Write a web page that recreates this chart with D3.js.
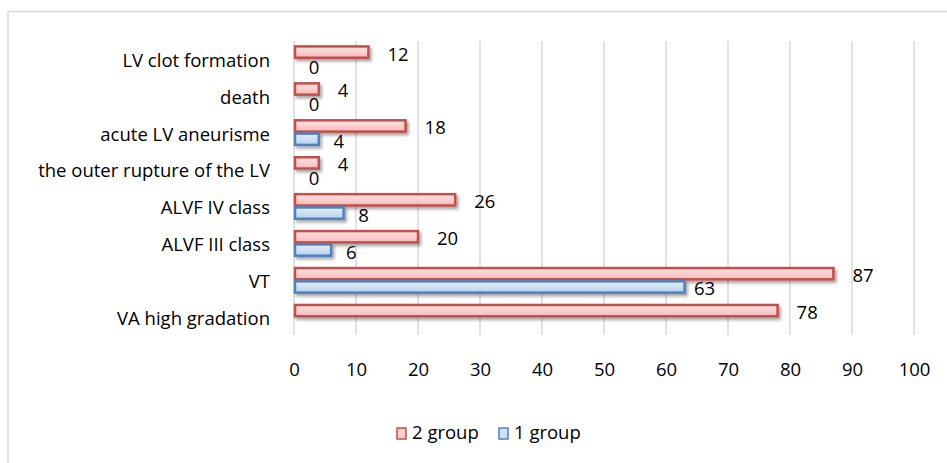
<!DOCTYPE html>
<html><head><meta charset="utf-8">
<script src="https://cdn.jsdelivr.net/npm/d3@7"></script>
<style>body{margin:0;background:#fff}svg{display:block}text{font-family:"Open Sans","Noto Sans",sans-serif;fill:#000}</style>
</head><body><svg id="c" width="947" height="463"></svg>
<script>
const categories = ["LV clot formation","death","acute LV aneurisme","the outer rupture of the LV","ALVF IV class","ALVF III class","VT","VA high gradation"];
const group2 = [12,4,18,4,26,20,87,78];
const group1 = [0,0,4,0,8,6,63,null];
const seriesNames = ["2 group","1 group"];
const xTicks = [0,10,20,30,40,50,60,70,80,90,100];

const FONT = "'Open Sans','Noto Sans',sans-serif";
const FS = 18.5;
const svg = d3.select("#c");
const defs = svg.append("defs");
const f = defs.append("filter").attr("id","sh").attr("x","-10%").attr("y","-50%").attr("width","130%").attr("height","220%");
f.append("feDropShadow").attr("dx",2).attr("dy",2.5).attr("stdDeviation",1.6).attr("flood-color","#000").attr("flood-opacity",0.35);
function grad(id,c1,c2){const g=defs.append("linearGradient").attr("id",id).attr("x1",0).attr("y1",0).attr("x2",0).attr("y2",1);
 g.append("stop").attr("offset","0%").attr("stop-color",c1);g.append("stop").attr("offset","100%").attr("stop-color",c2);}
grad("gr","#fde3e3","#f7b9b9");
grad("gb","#e5eefb","#b9d0f0");

svg.append("rect").attr("x",8).attr("y",11.5).attr("width",1000).attr("height",500).attr("fill","none").attr("stroke","#d9d9d9").attr("stroke-width",1.5);

const x = d3.scaleLinear().domain([0,100]).range([294,914]);
const y = d3.scaleBand().domain(categories).range([41,335]).paddingInner(0.28).paddingOuter(0.12);
const sub = d3.scaleBand().domain(seriesNames).range([0,y.bandwidth()]);

// gridlines
svg.append("g").selectAll("line").data(xTicks).join("line")
 .attr("x1",d=>x(d)).attr("x2",d=>x(d)).attr("y1",41).attr("y2",335)
 .attr("stroke","#d9d9d9").attr("stroke-width",1.5);

// x axis labels
const xa = svg.append("g").attr("transform","translate(0,370)").call(d3.axisBottom(x).tickValues(xTicks).tickSize(0).tickPadding(0));
xa.select(".domain").remove();
xa.selectAll("text").attr("font-size",FS).attr("font-family",FONT).attr("dy","0.35em").attr("fill","#000");

// y axis labels
const ya = svg.append("g").attr("transform","translate(270,2)").call(d3.axisLeft(y).tickSize(0).tickPadding(0));
ya.select(".domain").remove();
ya.selectAll("text").attr("font-size",FS).attr("font-family",FONT).attr("fill","#000");

const series = [
 {name:"2 group", vals:group2, fill:"url(#gr)", stroke:"#c0504d", swatch:"#f9cccc"},
 {name:"1 group", vals:group1, fill:"url(#gb)", stroke:"#4f81bd", swatch:"#d3e1f5"}
];

series.forEach(s=>{
 const data = categories.map((c,i)=>({c,v:s.vals[i]})).filter(d=>d.v!==null);
 const g = svg.append("g");
 g.selectAll("rect").data(data).join("rect")
  .attr("x",x(0)+1).attr("y",d=>y(d.c)+sub(s.name)+1)
  .attr("width",d=>Math.max(0,x(d.v)-x(0)-1)).attr("height",sub.bandwidth()-2)
  .attr("fill",s.fill).attr("stroke",d=>d.v>0?s.stroke:"none").attr("stroke-width",2.5)
  .attr("filter","url(#sh)");
 g.selectAll("text").data(data).join("text")
  .attr("x",d=>x(d.v)+(s.name==="2 group"?19:20))
  .attr("y",d=>y(d.c)+sub(s.name)+sub.bandwidth()/2+3.5)
  .attr("text-anchor",s.name==="2 group"?"start":"middle")
  .attr("dominant-baseline","middle").attr("font-size",FS).text(d=>d.v);
});

// legend
const lg = svg.append("g").attr("transform","translate(396,434)");
let lx = 0;
series.forEach(s=>{
 lg.append("rect").attr("x",1).attr("y",-6).attr("width",9).attr("height",11).attr("fill",s.swatch).attr("stroke",s.stroke).attr("stroke-width",1.5).attr("transform",`translate(${lx},0)`);
 lg.append("text").attr("x",lx+16).attr("y",0).attr("dominant-baseline","middle").attr("font-size",FS).text(s.name);
 lx += 102;
});
</script></body></html>
